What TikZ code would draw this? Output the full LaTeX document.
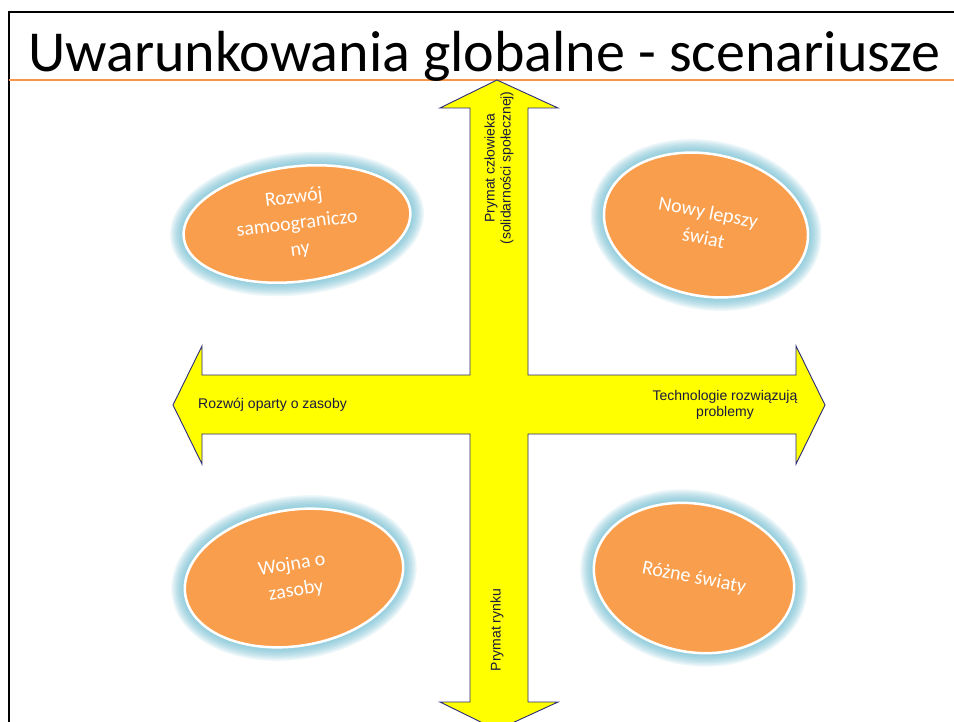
\documentclass[tikz,border=0pt]{standalone}
\usepackage{fontspec}
\setmainfont{Carlito}
\newfontfamily\arialf{Liberation Sans}
\usetikzlibrary{shapes.geometric}
\definecolor{arrowfill}{HTML}{FFFF00}
\definecolor{arrowline}{HTML}{2B2B7A}
\definecolor{ovalfill}{HTML}{F99E4C}
\definecolor{glowc}{HTML}{5DB7CE}
\definecolor{rulec}{HTML}{F79646}
\definecolor{labelc}{HTML}{1A1A40}
\begin{document}
\begin{tikzpicture}[x=1pt,y=-1pt,
  glowring/.style={preaction={draw=glowc, draw opacity=0.11, line width=#1}},
  oval/.style={ellipse, draw=white, line width=2.5pt, fill=ovalfill, inner sep=0pt,
    text=white, align=center, font=\fontsize{20}{26}\selectfont,
    glowring=27pt, glowring=24pt, glowring=21pt, glowring=18pt, glowring=15pt,
    glowring=12pt, glowring=9pt, glowring=6pt},
  axislabel/.style={font=\arialf\fontsize{14}{16}\selectfont, text=labelc, align=center, inner sep=0pt},
  crossarrow/.style={fill=arrowfill, draw=arrowline, line width=0.9pt, line join=miter}]
\useasboundingbox (0,0) rectangle (954,722);
\fill[white] (0,0) rectangle (954,722);
% frame
\draw[line width=2.5pt] (9,722) -- (9,12) -- (954,12);
\draw[rulec, line width=2pt] (9,80) -- (954,80);
% cross arrow
\draw[crossarrow] (497,80) -- (558,108) -- (528,108) -- (528,375) -- (796,375) -- (796,346)
  -- (825,405) -- (796,464) -- (796,434) -- (528,434) -- (528,702) -- (558,702) -- (497,730)
  -- (440,702) -- (470,702) -- (470,434) -- (202,434) -- (202,464) -- (173,405) -- (202,346)
  -- (202,375) -- (470,375) -- (470,108) -- (440,108) -- cycle;
% title
\node[anchor=base west, inner sep=0pt, font=\fontsize{58}{70}\selectfont] (title) at (28,72) {Uwarunkowania globalne - scenariusze};
% axis labels
\node[axislabel, anchor=west] (lw) at (198,405) {Rozwój oparty o zasoby};
\node[axislabel] (le) at (725,405) {Technologie rozwiązują\\problemy};
\node[axislabel, rotate=90] (lt) at (499,168) {Prymat człowieka\\(solidarności społecznej)};
\node[axislabel, rotate=90] (lb) at (497,630) {Prymat rynku};
% scenario ovals
\node[oval, minimum width=228pt, minimum height=115pt, rotate=7] (tl) at (297,224) {Rozwój\\samoograniczo\\ny};
\node[oval, minimum width=206pt, minimum height=142pt, rotate=-11] (tr) at (706,225) {Nowy lepszy\\świat};
\node[oval, minimum width=220pt, minimum height=136pt, rotate=9] (bl) at (294,578) {Wojna o\\zasoby};
\node[oval, minimum width=202pt, minimum height=148pt, rotate=-11] (br) at (694,578) {Różne światy};
\end{tikzpicture}
\end{document}
